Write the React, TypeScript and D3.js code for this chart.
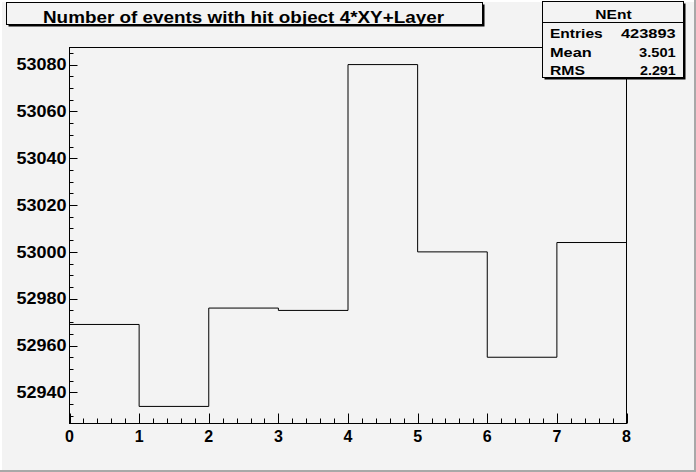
import React from "react";
import * as d3 from "d3";

const title = "Number of events with hit object 4*XY+Layer";
const binEdges = [0, 1, 2, 3, 4, 5, 6, 7, 8];
const counts = [52969, 52934, 52976, 52975, 53080, 53000, 52955, 53004];
const xTickValues = [0, 1, 2, 3, 4, 5, 6, 7, 8];
const yTickValues = [52940, 52960, 52980, 53000, 53020, 53040, 53060, 53080];
const statsTitle = "NEnt";
const statsLabels = ["Entries", "Mean", "RMS"];
const statsValues = ["423893", "3.501", "2.291"];

const W = 696;
const H = 472;
const BG = "#f3f3f3";
const FONT = "'Liberation Sans', Arial, Helvetica, sans-serif";

export default function App() {
  const fx0 = 69.5, fx1 = 626.5, fy0 = 47.5, fy1 = 423.5;
  const x = d3.scaleLinear().domain([0, 8]).range([fx0, fx1]);
  const y = d3.scaleLinear().domain([52926.7, 53087.3]).range([fy1, fy0]);

  const pts: [number, number][] = counts.map((c, i) => [binEdges[i], c]);
  pts.push([binEdges[binEdges.length - 1], counts[counts.length - 1]]);
  const line = d3
    .line<[number, number]>()
    .x((d) => x(d[0]))
    .y((d) => y(d[1]))
    .curve(d3.curveStepAfter);

  const xMinor = d3.range(0, 8.0001, 0.2).filter((v) => Math.abs(v - Math.round(v)) > 1e-6);
  const yMinor = d3.range(52930, 53087, 5).filter((v) => v % 20 !== 0);

  const statsRows = [37.7, 56.7, 75];
  const labelW = [52.7, 41.7, 35];
  const valueW = [54.7, 36.7, 35.7];

  return (
    <svg
      width={W}
      height={H}
      style={{ position: "absolute", left: 0, top: 0, display: "block" }}
      fontFamily={FONT}
    >
      <rect x={0} y={0} width={W} height={H} fill={BG} />
      {/* canvas bevel */}
      <rect x={0} y={0} width={W} height={2} fill="#ffffff" />
      <rect x={0} y={0} width={2} height={H} fill="#ffffff" />
      <rect x={W - 2} y={0} width={2} height={H} fill="#a8a8a8" />
      <rect x={0} y={H - 2} width={W} height={2} fill="#a8a8a8" />

      {/* histogram */}
      <path d={line(pts) || ""} fill="none" stroke="#000" strokeWidth={1} />

      {/* frame */}
      <rect x={fx0} y={fy0} width={fx1 - fx0} height={fy1 - fy0} fill="none" stroke="#000" strokeWidth={1} />

      {/* x ticks */}
      {xTickValues.map((v) => (
        <line key={"xM" + v} x1={Math.round(x(v)) + 0.5} x2={Math.round(x(v)) + 0.5} y1={fy1} y2={fy1 - 10} stroke="#000" />
      ))}
      {xMinor.map((v, i) => (
        <line key={"xm" + i} x1={Math.round(x(v)) + 0.5} x2={Math.round(x(v)) + 0.5} y1={fy1} y2={fy1 - 5} stroke="#000" />
      ))}
      {xTickValues.map((v) => (
        <text key={"xl" + v} x={x(v)} y={442} textAnchor="middle" fontSize={16} fontWeight="bold" fill="#000">
          {String(v)}
        </text>
      ))}

      {/* y ticks */}
      {yTickValues.map((v) => (
        <line key={"yM" + v} x1={fx0} x2={fx0 + 8} y1={Math.round(y(v)) + 0.5} y2={Math.round(y(v)) + 0.5} stroke="#000" />
      ))}
      {yMinor.map((v) => (
        <line key={"ym" + v} x1={fx0} x2={fx0 + 4} y1={Math.round(y(v)) + 0.5} y2={Math.round(y(v)) + 0.5} stroke="#000" />
      ))}
      {yTickValues.map((v) => (
        <text
          key={"yl" + v}
          x={66.5}
          y={y(v) + 5.7}
          textAnchor="end"
          fontSize={16}
          fontWeight="bold"
          fill="#000"
          textLength={50}
          lengthAdjust="spacingAndGlyphs"
        >
          {String(v)}
        </text>
      ))}

      {/* title box */}
      <rect x={8.5} y={4.5} width={476} height={22} fill="#000" />
      <rect x={6.5} y={2.5} width={476} height={22} fill={BG} stroke="#000" strokeWidth={1} />
      <text
        x={243.5}
        y={22.5}
        textAnchor="middle"
        fontSize={17}
        fontWeight="bold"
        fill="#000"
        textLength={401}
        lengthAdjust="spacingAndGlyphs"
      >
        {title}
      </text>

      {/* stats box */}
      <rect x={544.5} y={3.5} width={141} height={76} fill="#000" />
      <rect x={542.5} y={1.5} width={141} height={76} fill={BG} stroke="#000" strokeWidth={1} />
      <line x1={542.5} x2={683.5} y1={22.5} y2={22.5} stroke="#000" />
      <text
        x={613.5}
        y={19.3}
        textAnchor="middle"
        fontSize={12.5}
        fontWeight="bold"
        fill="#000"
        textLength={36.3}
        lengthAdjust="spacingAndGlyphs"
      >
        {statsTitle}
      </text>
      {statsLabels.map((lab, i) => (
        <text
          key={"sl" + lab}
          x={550}
          y={statsRows[i]}
          fontSize={12.5}
          fontWeight="bold"
          fill="#000"
          textLength={labelW[i]}
          lengthAdjust="spacingAndGlyphs"
        >
          {lab}
        </text>
      ))}
      {statsValues.map((val, i) => (
        <text
          key={"sv" + i}
          x={675.7 - valueW[i]}
          y={statsRows[i]}
          fontSize={12.5}
          fontWeight="bold"
          fill="#000"
          textLength={valueW[i]}
          lengthAdjust="spacingAndGlyphs"
        >
          {val}
        </text>
      ))}
    </svg>
  );
}
